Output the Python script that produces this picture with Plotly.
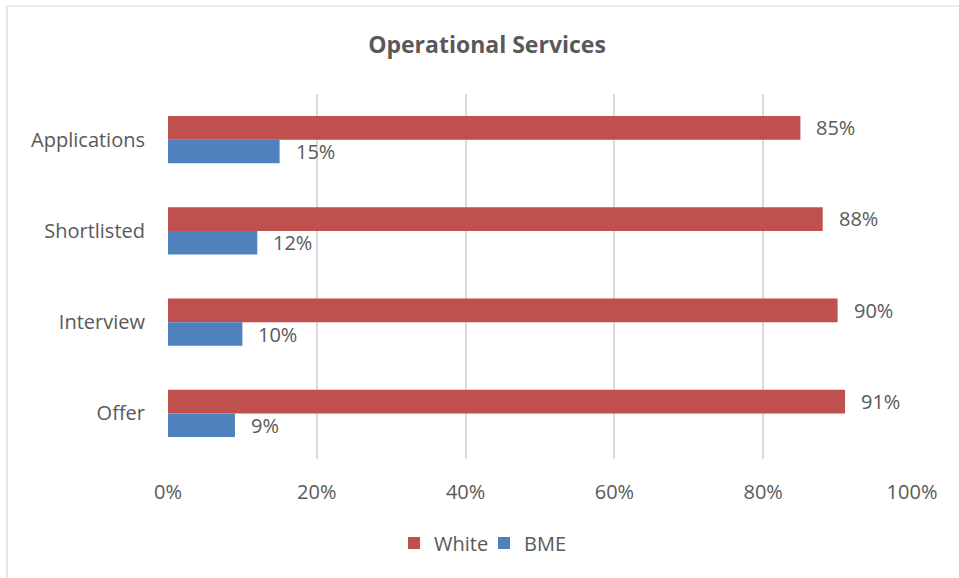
import plotly.graph_objects as go

categories = ["Applications", "Shortlisted", "Interview", "Offer"]
white_pct = [85, 88, 90, 91]
bme_pct = [15, 12, 10, 9]
x_ticks = [0, 20, 40, 60, 80, 100]
x_tick_labels = ["0%", "20%", "40%", "60%", "80%", "100%"]

RED = "#C0504D"
BLUE = "#4F81BD"
TEXT = "#595959"
GRID = "#D9D9D9"
FONT = "'Open Sans', Lato, sans-serif"
FS = 20

W, H = 959, 578
L, R, T, B = 168, 47, 94, 119
plot_w = W - L - R
plot_h = H - T - B

fig = go.Figure()
fig.add_trace(go.Bar(name="White", y=categories, x=white_pct, orientation="h",
                     marker=dict(color=RED, line=dict(width=0))))
fig.add_trace(go.Bar(name="BME", y=categories, x=bme_pct, orientation="h",
                     marker=dict(color=BLUE, line=dict(width=0))))

# value labels to the right of each bar
bar_px = 23.8
for vals, dy in ((white_pct, bar_px / 2), (bme_pct, -bar_px / 2)):
    for cat, v in zip(categories, vals):
        fig.add_annotation(x=v, y=cat, text=f"{v}%", showarrow=False,
                           xanchor="left", yanchor="middle", xshift=14, yshift=dy,
                           font=dict(family=FONT, size=FS, color=TEXT))

# chart frame
def px_x(p):
    return (p - L) / plot_w

def px_y(p):
    return (H - B - p) / plot_h

fig.add_shape(type="rect", xref="paper", yref="paper",
              x0=px_x(7), x1=px_x(970), y0=px_y(590), y1=px_y(6),
              line=dict(color="#D9D9D9", width=1.2), fillcolor="rgba(0,0,0,0)", layer="below")

fig.update_layout(
    width=W, height=H,
    margin=dict(l=L, r=R, t=T, b=B, pad=0),
    paper_bgcolor="white", plot_bgcolor="white",
    barmode="group", bargap=0.48, bargroupgap=0,
    font=dict(family=FONT, color=TEXT, size=FS),
    title=dict(text="<b>Operational Services</b>", x=487 / W, xref="container", xanchor="center",
               y=1 - 45 / H, yref="container", yanchor="middle",
               font=dict(family=FONT, size=23, color=TEXT)),
    xaxis=dict(range=[0, 100], tickvals=x_ticks, ticktext=x_tick_labels,
               showgrid=True, gridcolor=GRID, gridwidth=1.5, zeroline=False,
               showline=False, ticks="", ticklabelstandoff=19,
               tickfont=dict(family=FONT, size=FS, color=TEXT)),
    yaxis=dict(autorange="reversed", showgrid=False, zeroline=False, showline=False,
               ticks="", ticklabelstandoff=22,
               tickfont=dict(family=FONT, size=FS, color=TEXT)),
    legend=dict(orientation="h", x=px_x(394), xanchor="left", y=px_y(543), yanchor="middle",
                font=dict(family=FONT, size=FS, color=TEXT), traceorder="normal",
                itemwidth=30, entrywidth=45, entrywidthmode="pixels",
                bgcolor="rgba(0,0,0,0)"),
    showlegend=True,
)

fig.write_html("out.html")
